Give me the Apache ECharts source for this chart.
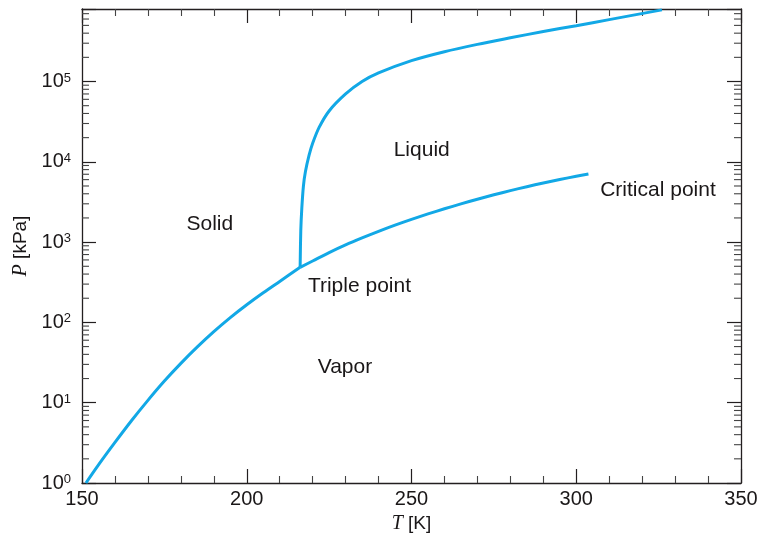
<!DOCTYPE html>
<html>
<head>
<meta charset="utf-8">
<script src="https://cdn.jsdelivr.net/npm/echarts@6/dist/echarts.min.js"></script>
<style>
html,body{margin:0;padding:0;background:#fff;}
#chart{width:761px;height:542px;}
</style>
</head>
<body>
<div id="chart"></div>
<script>
// Sublimation curve (solid-vapor)
const sublimationT = [151.2, 155, 160, 165, 170, 175, 180, 185, 190, 195, 200, 205, 210, 216.2];
const sublimationP = [1.0, 1.68, 3.2, 5.96, 10.7, 18.6, 30.9, 49.5, 76.7, 114.8, 166, 234, 324, 485];
// Melting curve (solid-liquid)
const meltingT = [216.2, 216.4, 216.7, 217.2, 217.8, 218.9, 220, 222, 225, 230, 235, 240, 250, 260, 270, 280, 290, 300, 310, 326];
const meltingP = [485, 1400, 2600, 5000, 7500, 12000, 17000, 27000, 43000, 70000, 100000, 128000, 182000, 235000, 290000, 350000, 420000, 495000, 590000, 780000];
// Vaporization curve (liquid-vapor), up to critical point
const vaporT = [216.2, 220, 225, 230, 235, 240, 245, 250, 255, 260, 265, 270, 275, 280, 285, 290, 295, 300, 303.7];
const vaporP = [485, 582, 741, 923, 1127, 1361, 1626, 1919, 2244, 2600, 2992, 3420, 3882, 4375, 4898, 5445, 6012, 6607, 7063];
// Region annotations
const regionNames = ['Solid', 'Liquid', 'Critical point', 'Triple point', 'Vapor'];
const regionT = [188.8, 253.1, 324.8, 234.2, 229.8];
const regionP = [1650, 14000, 4400, 285, 27.5];
// Axes
const xMin = 150, xMax = 350, xInterval = 50;
const yMin = 1, yMax = 800000;
const yMinorTicks = [];
for (let k = 0; k <= 5; k++) for (let m = 2; m <= 9; m++) { const v = m * Math.pow(10, k); if (v < yMax) yMinorTicks.push(v); }

const pairs = (a, b) => a.map((t, i) => [t, b[i]]);
const SANS = "'Liberation Sans', Arial, Helvetica, sans-serif";
const SERIF = "'Liberation Serif', 'Times New Roman', serif";
const TXT = '#1a1718';
const LINE = '#12a8e6';
const AX = '#231f20';

const chart = echarts.init(document.getElementById('chart'), null, {renderer: 'canvas'});

const xCommon = {
  type: 'value', min: xMin, max: xMax, interval: xInterval,
  splitLine: {show: false},
  axisLine: {show: true, lineStyle: {color: AX, width: 1.3}},
  axisTick: {show: true, inside: true, length: 14, lineStyle: {color: AX, width: 1.2}},
  minorTick: {show: true, splitNumber: 5, length: 7, lineStyle: {color: '#444', width: 1.1}},
  minorSplitLine: {show: false}
};
const yCommon = {
  type: 'log', logBase: 10, min: yMin, max: yMax,
  splitLine: {show: false},
  axisLine: {show: true, lineStyle: {color: AX, width: 1.3}},
  axisTick: {show: true, inside: true, length: 14, lineStyle: {color: AX, width: 1.2}},
  minorTick: {show: false}
};

const option = {
  animation: false,
  backgroundColor: '#fff',
  grid: {left: 82, right: 20, top: 9, bottom: 59},
  xAxis: [
    Object.assign({}, xCommon, {
      position: 'bottom',
      name: '{i|T} [K]', nameLocation: 'middle', nameGap: 30,
      nameTextStyle: {fontFamily: SANS, fontSize: 19, color: TXT,
        rich: {i: {fontFamily: SERIF, fontStyle: 'italic', fontSize: 20, color: TXT}}},
      axisLabel: {show: true, margin: 6, fontFamily: SANS, fontSize: 20, color: TXT}
    }),
    Object.assign({}, xCommon, {position: 'top', axisLabel: {show: false}})
  ],
  yAxis: [
    Object.assign({}, yCommon, {
      position: 'left',
      name: '{i|P} [kPa]', nameLocation: 'middle', nameGap: 51,
      nameTextStyle: {fontFamily: SANS, fontSize: 19, color: TXT,
        rich: {i: {fontFamily: SERIF, fontStyle: 'italic', fontSize: 20, color: TXT}}},
      axisLabel: {
        show: true, margin: 11,
        formatter: function (v) {
          const e = Math.log10(v);
          if (Math.abs(e - Math.round(e)) > 1e-6) return '';
          return '{b|10}{s|' + Math.round(e) + '}';
        },
        rich: {
          b: {fontFamily: SANS, fontSize: 20, color: TXT},
          s: {fontFamily: SANS, fontSize: 13, color: TXT, verticalAlign: 'top'}
        }
      }
    }),
    Object.assign({}, yCommon, {position: 'right', axisLabel: {show: false}})
  ],
  series: [
    {
      type: 'custom', silent: true, xAxisIndex: 0, yAxisIndex: 0, clip: false,
      data: yMinorTicks.map(v => [xMin, v]),
      renderItem: function (params, api) {
        const pt = api.coord([xMin, api.value(1)]);
        const cs = params.coordSys;
        const st = {stroke: '#444', lineWidth: 1.1};
        return {type: 'group', children: [
          {type: 'line', shape: {x1: cs.x, y1: pt[1], x2: cs.x + 7, y2: pt[1]}, style: st},
          {type: 'line', shape: {x1: cs.x + cs.width - 7, y1: pt[1], x2: cs.x + cs.width, y2: pt[1]}, style: st}
        ]};
      }
    },
    {type: 'line', name: 'sublimation', data: pairs(sublimationT, sublimationP), showSymbol: false, smooth: 0.3,
      lineStyle: {color: LINE, width: 3}, silent: true},
    {type: 'line', name: 'melting', data: pairs(meltingT, meltingP), showSymbol: false, smooth: 0.3,
      lineStyle: {color: LINE, width: 3}, silent: true},
    {type: 'line', name: 'vaporization', data: pairs(vaporT, vaporP), showSymbol: false, smooth: 0.3,
      lineStyle: {color: LINE, width: 3}, silent: true},
    {
      type: 'scatter', symbolSize: 0, silent: true,
      itemStyle: {opacity: 1},
      data: regionNames.map((n, i) => ({name: n, value: [regionT[i], regionP[i]]})),
      label: {show: true, position: 'inside', formatter: '{b}', fontFamily: SANS, fontSize: 21,
        color: TXT, opacity: 1, textBorderWidth: 0}
    }
  ]
};
chart.setOption(option);
</script>
</body>
</html>
